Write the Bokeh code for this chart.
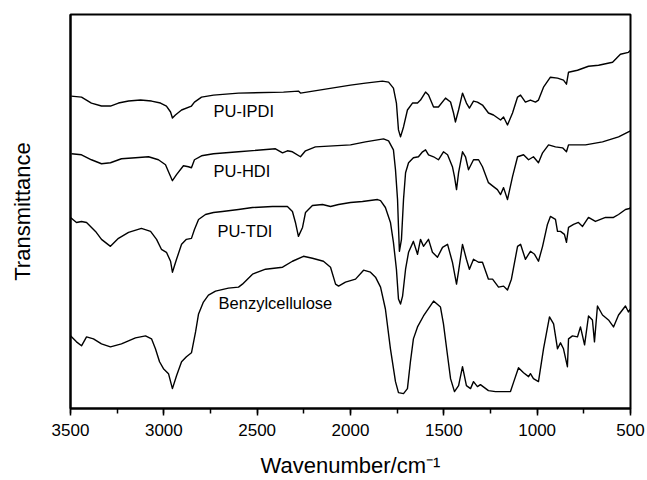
from bokeh.plotting import figure
from bokeh.models import Range1d, SingleIntervalTicker, FixedTicker, ColumnDataSource
from bokeh.core.properties import value
from bokeh.embed import file_html
from bokeh.resources import INLINE

# Wavenumber (cm-1) and transmittance (arbitrary, offset)
ipdi_w = [3496, 3441, 3388, 3334, 3286, 3243, 3189, 3125, 3066, 3018, 2986, 2964, 2954, 2938, 2905, 2852, 2836, 2798,
          2734, 2600, 2359, 2279, 2268, 2000, 1920, 1829, 1796, 1770, 1754, 1743, 1732, 1716, 1695, 1668, 1641, 1625,
          1598, 1582, 1555, 1529, 1491, 1464, 1448, 1438, 1421, 1400, 1379, 1363, 1341, 1320, 1293, 1261, 1234, 1196,
          1180, 1159, 1132, 1105, 1089, 1063, 1036, 1009, 993, 966, 929, 891, 859, 843, 832, 784, 725, 671, 596, 554,
          511, 500]
ipdi_t = [314, 313, 307, 304, 304, 307, 309, 310, 309, 307, 304, 298, 292, 295, 300, 304, 308, 313,
          315, 317, 318, 319, 317, 325, 327, 329, 328, 322, 307, 280, 273, 283, 300, 307, 307, 310,
          318, 315, 303, 303, 312, 308, 297, 288, 300, 317, 307, 302, 309, 308, 305, 297, 295, 290,
          293, 285, 297, 313, 315, 308, 310, 308, 310, 323, 333, 332, 330, 326, 338, 340, 344, 345, 348, 356,
          358, 360]

hdi_w = [3495, 3441, 3388, 3334, 3286, 3227, 3152, 3082, 3029, 2991, 2975, 2954, 2932, 2895, 2868, 2852, 2836, 2798,
         2734, 2600, 2402, 2364, 2338, 2311, 2268, 2241, 2188, 2000, 1920, 1823, 1796, 1770, 1759, 1748, 1743, 1738,
         1727, 1716, 1705, 1689, 1663, 1636, 1614, 1598, 1582, 1555, 1529, 1502, 1480, 1454, 1443, 1432, 1421, 1400,
         1384, 1368, 1341, 1314, 1293, 1261, 1234, 1213, 1196, 1180, 1159, 1132, 1105, 1073, 1046, 1020, 993, 971,
         939, 902, 864, 843, 832, 741, 650, 564, 511, 500]
hdi_t = [256, 255, 250, 246, 247, 251, 252, 253, 250, 245, 238, 229, 235, 244, 243, 242, 250, 254,
         256, 258, 261, 257, 259, 258, 253, 259, 263, 265, 268, 271, 269, 260, 240, 210, 183, 158,
         170, 210, 237, 247, 252, 253, 258, 260, 255, 253, 250, 258, 255, 243, 233, 220, 237, 258,
         253, 240, 250, 250, 243, 227, 223, 220, 215, 222, 210, 233, 253, 255, 250, 253, 247, 257,
         265, 263, 262, 258, 265, 265, 268, 273, 278, 279]

tdi_w = [3500, 3468, 3441, 3414, 3366, 3334, 3286, 3243, 3189, 3120, 3071, 3039, 3013, 2986, 2964, 2954, 2932, 2905,
         2879, 2852, 2836, 2814, 2777, 2734, 2686, 2600, 2525, 2418, 2338, 2311, 2295, 2279, 2257, 2241, 2204, 2150,
         2107, 2064, 2000, 1936, 1855, 1839, 1813, 1786, 1770, 1754, 1743, 1732, 1721, 1705, 1689, 1663, 1641, 1625,
         1609, 1582, 1561, 1534, 1507, 1480, 1454, 1432, 1421, 1400, 1379, 1363, 1341, 1314, 1293, 1261, 1239, 1207,
         1180, 1159, 1138, 1105, 1089, 1063, 1036, 1014, 993, 971, 945, 929, 902, 891, 875, 854, 843, 832, 805, 779,
         757, 725, 688, 634, 591, 564, 527, 505, 500]
tdi_t = [192, 187, 188, 187, 178, 170, 163, 171, 177, 181, 178, 170, 160, 157, 148, 137, 150, 165,
         170, 171, 180, 190, 195, 197, 198, 200, 202, 203, 203, 198, 187, 173, 182, 197, 204, 205,
         203, 205, 207, 208, 210, 209, 202, 187, 167, 140, 110, 105, 113, 140, 157, 168, 155, 170,
         163, 170, 157, 152, 162, 165, 147, 125, 138, 165, 150, 140, 150, 147, 147, 130, 130, 122,
         123, 119, 130, 163, 165, 150, 158, 155, 148, 163, 185, 193, 190, 178, 178, 175, 167, 182, 185, 187,
         183, 192, 188, 192, 192, 195, 200, 201, 202]

benz_w = [3500, 3468, 3441, 3414, 3377, 3334, 3286, 3227, 3152, 3098, 3066, 3045, 3023, 3002, 2975, 2954, 2932, 2905,
          2879, 2852, 2830, 2814, 2788, 2761, 2723, 2654, 2600, 2579, 2525, 2455, 2364, 2311, 2252, 2204, 2145, 2107,
          2080, 2064, 2027, 1973, 1930, 1893, 1866, 1839, 1813, 1786, 1759, 1743, 1716, 1695, 1679, 1663, 1641, 1609,
          1555, 1518, 1502, 1480, 1464, 1443, 1421, 1400, 1379, 1357, 1341, 1320, 1304, 1261, 1223, 1143, 1127, 1100,
          1073, 1046, 1036, 1020, 993, 966, 934, 912, 891, 875, 859, 838, 832, 811, 784, 768, 746, 725, 704, 693, 677,
          650, 618, 591, 564, 527, 511, 500]
benz_t = [73, 67, 63, 72, 70, 65, 62, 65, 71, 73, 70, 60, 47, 40, 35, 20, 33, 47,
          52, 56, 77, 95, 107, 114, 118, 121, 122, 125, 135, 140, 142, 148, 153, 151, 148, 142,
          125, 123, 127, 130, 139, 137, 132, 122, 100, 60, 27, 16, 15, 20, 47, 70, 82, 93,
          108, 102, 85, 53, 30, 17, 23, 42, 23, 20, 27, 22, 24, 18, 17, 17, 26, 41,
          36, 32, 35, 30, 27, 60, 92, 85, 60, 66, 60, 42, 70, 73, 72, 82, 64, 93, 89, 67, 103,
          94, 89, 82, 94, 103, 97, 100]

series_names = ["PU-IPDI", "PU-HDI", "PU-TDI", "Benzylcellulose"]
label_w = [2734, 2734, 2713, 2707]
label_t = [299, 239, 178, 106]

FONT = "Liberation Sans"

p = figure(width=647, height=480, output_backend="svg", toolbar_location=None,
           x_range=Range1d(3500, 500), y_range=Range1d(0, 396),
           min_border_left=70, min_border_right=17, min_border_top=14, min_border_bottom=70)
p.grid.visible = False
p.background_fill_color = "white"
p.border_fill_color = "white"
p.outline_line_color = "black"
p.outline_line_width = 2

for w, t in [(ipdi_w, ipdi_t), (hdi_w, hdi_t), (tdi_w, tdi_t), (benz_w, benz_t)]:
    p.line(w, t, line_color="black", line_width=1.4, line_join="round")

src = ColumnDataSource(dict(x=label_w, y=label_t, text=series_names))
p.text(x="x", y="y", text="text", source=src, text_font=value(FONT), text_font_size="16.5px",
       text_align="left", text_baseline="middle", text_color="black")

xa = p.xaxis[0]
xa.ticker = SingleIntervalTicker(interval=500, num_minor_ticks=2)
xa.major_tick_in = 0
xa.major_tick_out = 7
xa.minor_tick_in = 0
xa.minor_tick_out = 5
xa.major_tick_line_width = 1.5
xa.minor_tick_line_width = 1.5
xa.major_tick_line_color = "black"
xa.minor_tick_line_color = "black"
xa.axis_line_width = 2
xa.axis_line_color = "black"
xa.major_label_text_font = FONT
xa.major_label_text_font_size = "17px"
xa.major_label_text_color = "black"
xa.major_label_standoff = 8
xa.axis_label = "Wavenumber/cm\u207b\u00b9"
xa.axis_label_text_font = FONT
xa.axis_label_text_font_size = "22px"
xa.axis_label_text_font_style = "normal"
xa.axis_label_text_color = "black"
xa.axis_label_standoff = 14

ya = p.yaxis[0]
ya.ticker = FixedTicker(ticks=[])
ya.major_tick_line_color = None
ya.minor_tick_line_color = None
ya.major_label_text_font_size = "0px"
ya.axis_line_width = 2
ya.axis_line_color = "black"
ya.axis_label = "Transmittance"
ya.axis_label_text_font = FONT
ya.axis_label_text_font_size = "22px"
ya.axis_label_text_font_style = "normal"
ya.axis_label_text_color = "black"
ya.axis_label_standoff = 36

open("out.html", "w").write(file_html(p, INLINE))
